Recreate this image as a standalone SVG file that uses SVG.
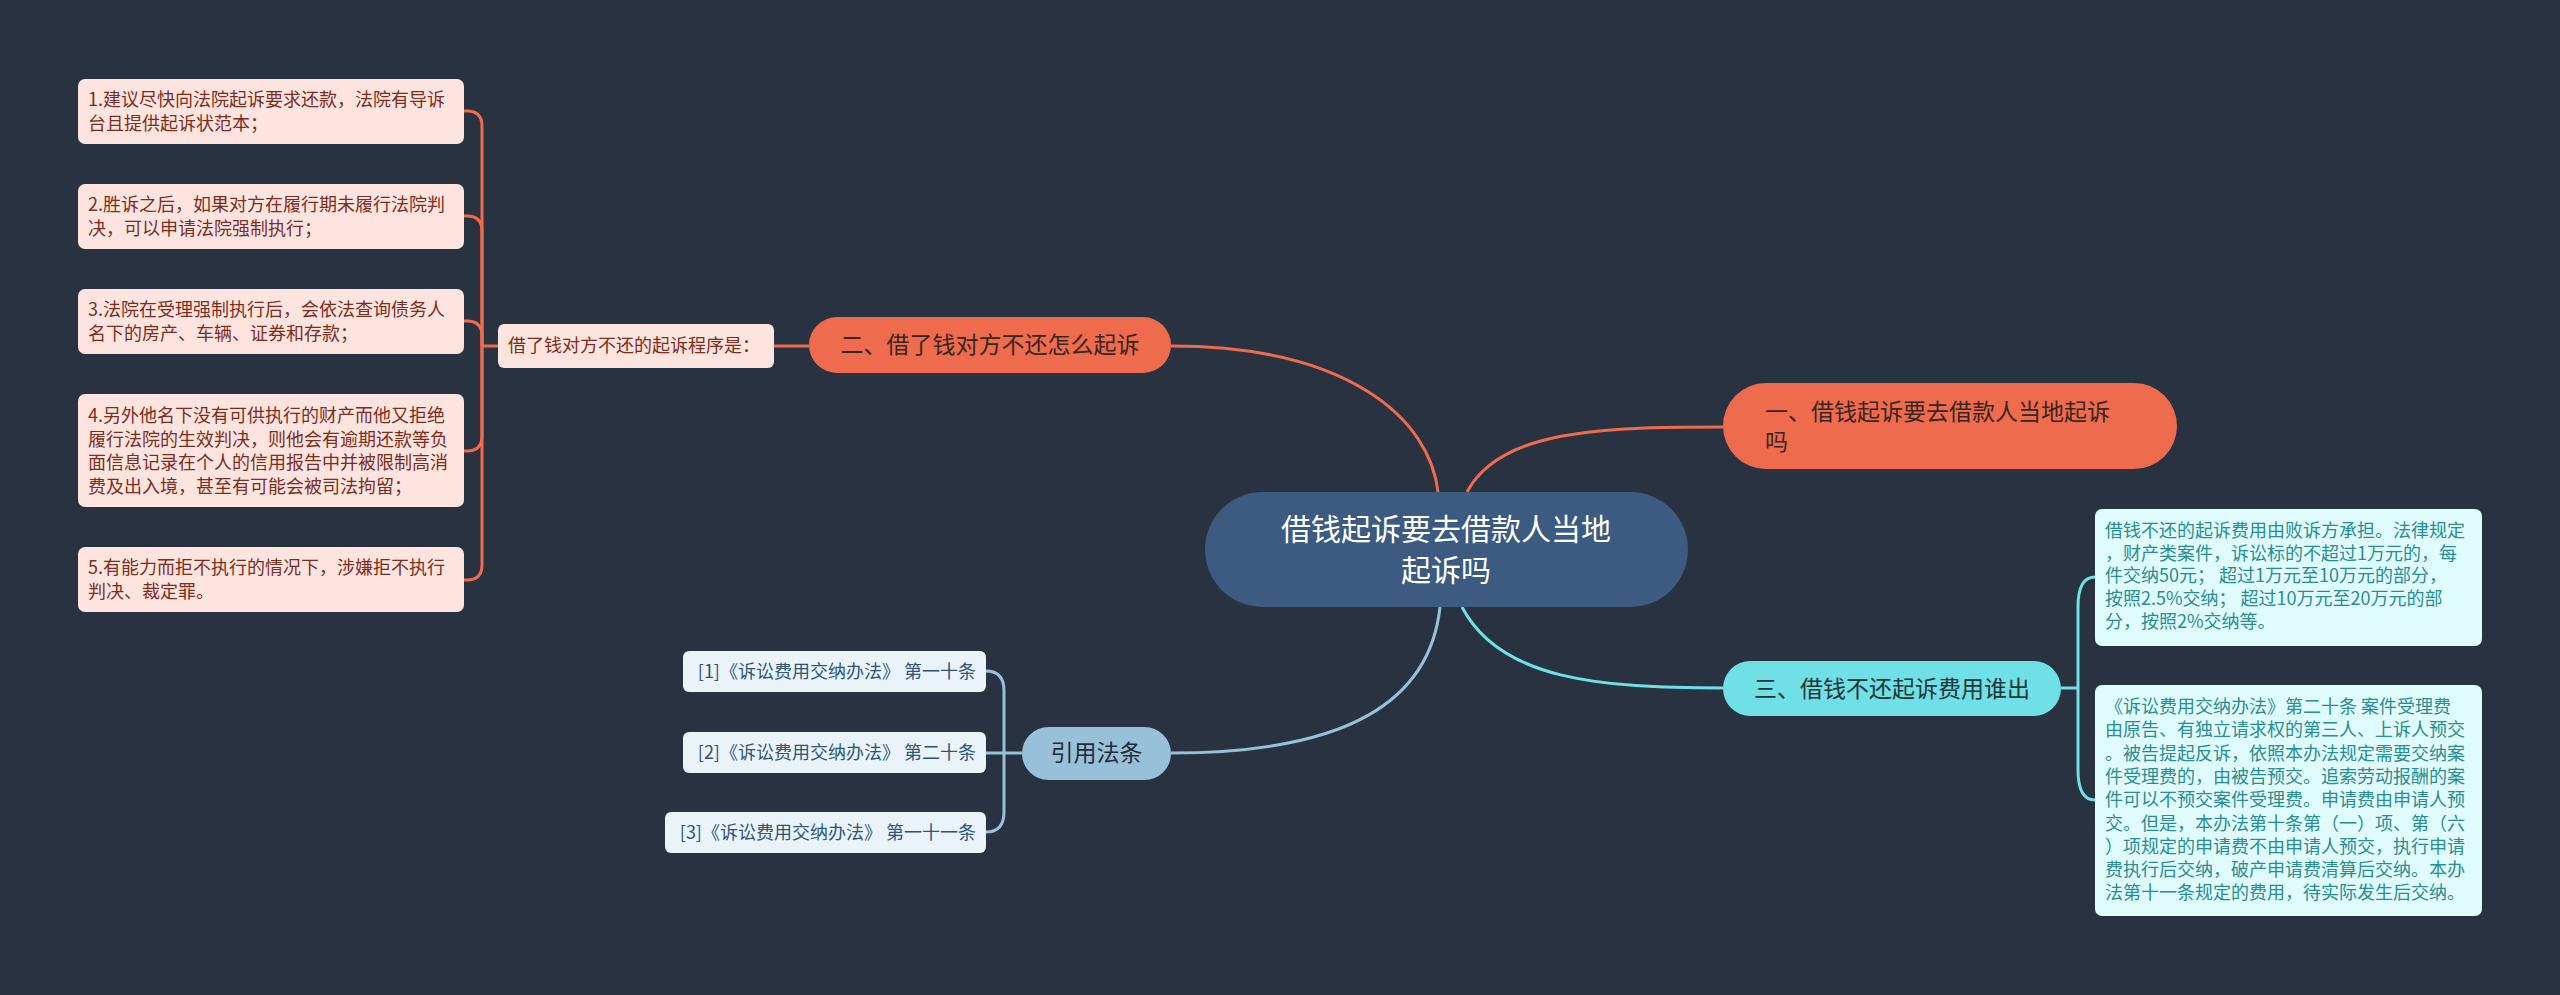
<svg xmlns="http://www.w3.org/2000/svg" width="2560" height="995" viewBox="0 0 2560 995">
<style>
text{font-family:"Noto Sans CJK SC","Noto Sans",sans-serif;}
.bg{fill:#293241;}
.c-or{fill:none;stroke:#ee6c4d;stroke-width:3;}
.c-cy{fill:none;stroke:#6fe0e6;stroke-width:3;}
.c-bl{fill:none;stroke:#98c1d9;stroke-width:3;}
.leaf{fill:#fde4de;}
.leaft{font-size:18px;fill:#7b2d1e;}
.rbox{fill:#e0fbfc;}
.rt{font-size:18px;fill:#2a8d90;}
.cite{fill:#eaf3f9;}
.citet{font-size:18px;fill:#2f5577;}
.main{font-size:23px;}
</style>
<rect class="bg" x="0" y="0" width="2560" height="995"/>
<g id="connectors">
<path class="c-or" d="M1171,346 C1350,346 1430,420 1438,492"/>
<path class="c-or" d="M1467,492 C1500,430 1600,427 1723,427"/>
<path class="c-cy" d="M1462,607 C1500,680 1600,688 1723,688"/>
<path class="c-bl" d="M1440,607 C1430,700 1350,753 1171,753"/>
<path class="c-or" d="M809,346 L774,346"/>
<path class="c-or" d="M498,346 L482,346"/>
<path class="c-or" d="M482,346 L482,126 Q482,111 467,111 L464,111"/>
<path class="c-or" d="M482,346 L482,231 Q482,216 467,216 L464,216"/>
<path class="c-or" d="M482,346 L482,336 Q482,321 467,321 L464,321"/>
<path class="c-or" d="M482,346 L482,436 Q482,451 467,451 L464,451"/>
<path class="c-or" d="M482,346 L482,565 Q482,580 467,580 L464,580"/>
<path class="c-cy" d="M2061,688 L2078,688"/>
<path class="c-cy" d="M2078,688 L2078,607 Q2078,577 2095,577"/>
<path class="c-cy" d="M2078,688 L2078,770 Q2078,800 2095,800"/>
<path class="c-bl" d="M1022,753 L986,753"/>
<path class="c-bl" d="M1004,753 L1004,691 Q1004,671 986,671"/>
<path class="c-bl" d="M1004,753 L1004,812 Q1004,832 986,832"/>
</g>
<g id="center">
<rect x="1205" y="492" width="483" height="115" rx="57.5" fill="#3d5a80"/>
<text x="1446" y="540" font-size="30" fill="#ffffff" text-anchor="middle">借钱起诉要去借款人当地</text>
<text x="1446" y="581" font-size="30" fill="#ffffff" text-anchor="middle">起诉吗</text>
</g>
<g id="node-er">
<rect x="809" y="317" width="362" height="56" rx="28" fill="#ee6c4d"/>
<text class="main" x="990" y="353" fill="#3a2520" text-anchor="middle">二、借了钱对方不还怎么起诉</text>
</g>
<g id="node-procedure">
<rect class="leaf" x="498" y="324" width="276" height="44" rx="6"/>
<text class="leaft" x="508" y="352">借了钱对方不还的起诉程序是：</text>
</g>
<g id="leaf-1">
<rect class="leaf" x="78" y="79" width="386" height="65" rx="7"/>
<text class="leaft" x="88" y="106">1.建议尽快向法院起诉要求还款，法院有导诉</text>
<text class="leaft" x="88" y="129.5">台且提供起诉状范本；</text>
</g>
<g id="leaf-2">
<rect class="leaf" x="78" y="184" width="386" height="65" rx="7"/>
<text class="leaft" x="88" y="211">2.胜诉之后，如果对方在履行期未履行法院判</text>
<text class="leaft" x="88" y="234.5">决，可以申请法院强制执行；</text>
</g>
<g id="leaf-3">
<rect class="leaf" x="78" y="289" width="386" height="65" rx="7"/>
<text class="leaft" x="88" y="316">3.法院在受理强制执行后，会依法查询债务人</text>
<text class="leaft" x="88" y="339.5">名下的房产、车辆、证券和存款；</text>
</g>
<g id="leaf-4">
<rect class="leaf" x="78" y="394" width="386" height="113" rx="7"/>
<text class="leaft" x="88" y="422">4.另外他名下没有可供执行的财产而他又拒绝</text>
<text class="leaft" x="88" y="445.5">履行法院的生效判决，则他会有逾期还款等负</text>
<text class="leaft" x="88" y="469">面信息记录在个人的信用报告中并被限制高消</text>
<text class="leaft" x="88" y="492.5">费及出入境，甚至有可能会被司法拘留；</text>
</g>
<g id="leaf-5">
<rect class="leaf" x="78" y="547" width="386" height="65" rx="7"/>
<text class="leaft" x="88" y="574">5.有能力而拒不执行的情况下，涉嫌拒不执行</text>
<text class="leaft" x="88" y="597.5">判决、裁定罪。</text>
</g>
<g id="node-yi">
<rect x="1723" y="383" width="454" height="86" rx="43" fill="#ee6c4d"/>
<text class="main" x="1765" y="419.5" fill="#3a2520">一、借钱起诉要去借款人当地起诉</text>
<text class="main" x="1765" y="449.5" fill="#3a2520">吗</text>
</g>
<g id="node-san">
<rect x="1723" y="661" width="338" height="55" rx="27.5" fill="#6fe0e6"/>
<text class="main" x="1892" y="697" fill="#1e3538" text-anchor="middle">三、借钱不还起诉费用谁出</text>
</g>
<g id="right-1">
<rect class="rbox" x="2095" y="509" width="387" height="137" rx="7"/>
<text class="rt" x="2105" y="537">借钱不还的起诉费用由败诉方承担。法律规定</text>
<text class="rt" x="2105" y="559.7">，财产类案件，诉讼标的不超过1万元的，每</text>
<text class="rt" x="2105" y="582.4">件交纳50元；  超过1万元至10万元的部分，</text>
<text class="rt" x="2105" y="605.1">按照2.5%交纳；  超过10万元至20万元的部</text>
<text class="rt" x="2105" y="627.8">分，按照2%交纳等。</text>
</g>
<g id="right-2">
<rect class="rbox" x="2095" y="685" width="387" height="231" rx="7"/>
<text class="rt" x="2105" y="713">《诉讼费用交纳办法》第二十条 案件受理费</text>
<text class="rt" x="2105" y="736.3">由原告、有独立请求权的第三人、上诉人预交</text>
<text class="rt" x="2105" y="759.6">。被告提起反诉，依照本办法规定需要交纳案</text>
<text class="rt" x="2105" y="782.9">件受理费的，由被告预交。追索劳动报酬的案</text>
<text class="rt" x="2105" y="806.2">件可以不预交案件受理费。申请费由申请人预</text>
<text class="rt" x="2105" y="829.5">交。但是，本办法第十条第（一）项、第（六</text>
<text class="rt" x="2105" y="852.8">）项规定的申请费不由申请人预交，执行申请</text>
<text class="rt" x="2105" y="876.1">费执行后交纳，破产申请费清算后交纳。本办</text>
<text class="rt" x="2105" y="899.4">法第十一条规定的费用，待实际发生后交纳。</text>
</g>
<g id="node-cite">
<rect x="1022" y="727" width="149" height="53" rx="26.5" fill="#98c1d9"/>
<text class="main" x="1096.5" y="761" fill="#1f2c3a" text-anchor="middle">引用法条</text>
</g>
<g id="cite-1">
<rect class="cite" x="683" y="651" width="303" height="41" rx="6"/>
<text class="citet" x="976" y="677.5" text-anchor="end">[1]《诉讼费用交纳办法》 第一十条</text>
</g>
<g id="cite-2">
<rect class="cite" x="683" y="732" width="303" height="41" rx="6"/>
<text class="citet" x="976" y="758.5" text-anchor="end">[2]《诉讼费用交纳办法》 第二十条</text>
</g>
<g id="cite-3">
<rect class="cite" x="665" y="812" width="321" height="41" rx="6"/>
<text class="citet" x="976" y="838.5" text-anchor="end">[3]《诉讼费用交纳办法》 第一十一条</text>
</g>
</svg>
